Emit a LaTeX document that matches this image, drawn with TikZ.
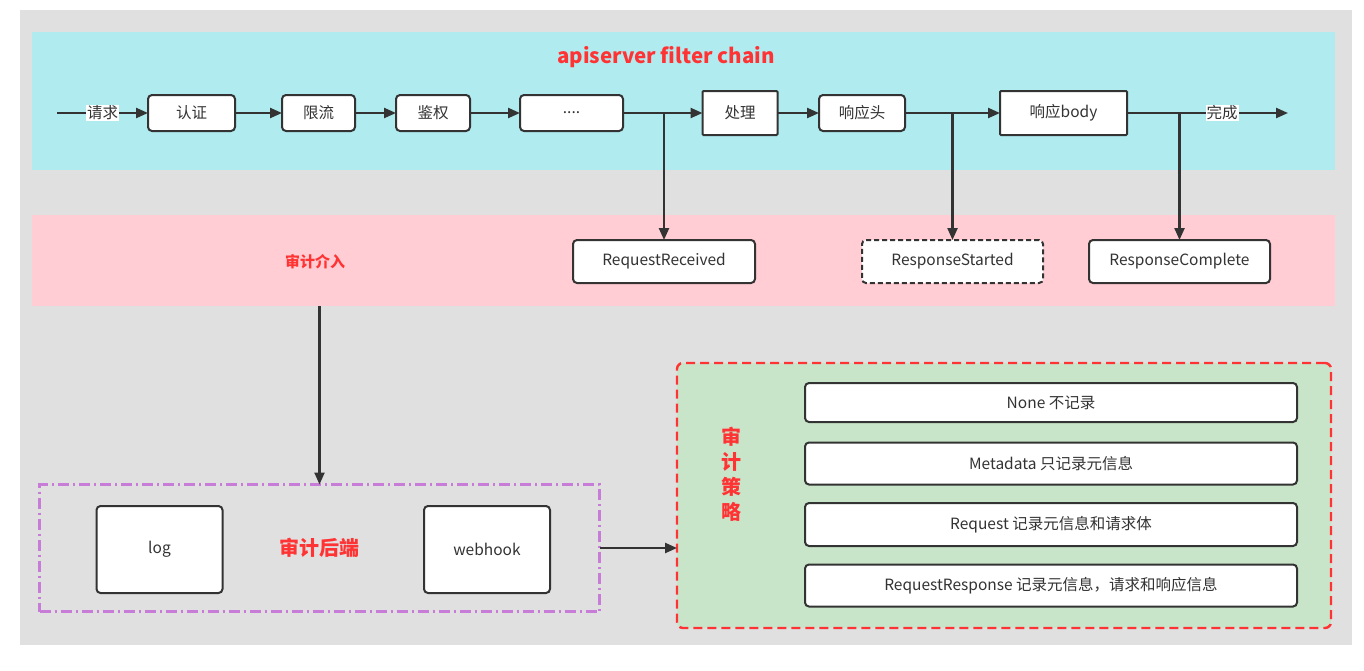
\documentclass[tikz,border=0pt]{standalone}
\usepackage{fontspec}
\setmainfont{Noto Sans CJK SC}
\usetikzlibrary{arrows.meta}
\definecolor{bggray}{HTML}{E0E0E0}
\definecolor{cyanband}{HTML}{B0EBF0}
\definecolor{pinkband}{HTML}{FFCDD3}
\definecolor{greenbox}{HTML}{C9E5C9}
\definecolor{redtxt}{HTML}{FF3333}
\definecolor{purpledash}{HTML}{C77DD8}
\definecolor{dark}{HTML}{333333}
\tikzset{
  box/.style={draw=dark, line width=2pt, fill=white, rounded corners=4pt, inner sep=0pt, outer sep=0pt, font=\fontsize{15.5}{17}\selectfont, text=dark},
  sqbox/.style={box, rounded corners=1pt},
  arr/.style={draw=dark, line width=2.3pt, -{Triangle[length=12pt,width=10pt]}},
  redlabel/.style={text=redtxt, font=\bfseries\fontsize{15}{17}\selectfont, inner sep=0pt},
  band/.style={inner sep=0pt, outer sep=0pt},
  flabel/.style={fill=white, inner sep=1pt, text=dark, font=\fontsize{15.5}{17}\selectfont}
}
\begin{document}
\begin{tikzpicture}[x=1pt,y=-1pt]
\useasboundingbox (0,0) rectangle (1364,670);
\fill[bggray] (20,10) rectangle (1352,645);
% bands
\node[band, fill=cyanband, minimum width=1303pt, minimum height=138pt] (cyanb) at (683.5,101) {};
\node[band, fill=pinkband, minimum width=1303pt, minimum height=91pt] (pink) at (683.5,260.5) {};
\node[redlabel, font=\bfseries\fontsize{20.5}{22}\selectfont] (title) at (666,57) {apiserver filter chain};
% chain
\coordinate (start) at (57,113);
\node[box, minimum width=87pt, minimum height=36pt] (auth) at (191.5,113) {认证};
\node[box, minimum width=73pt, minimum height=36pt] (limit) at (318.5,113) {限流};
\node[box, minimum width=74pt, minimum height=36pt] (authz) at (433,113) {鉴权};
\node[box, minimum width=103pt, minimum height=36pt] (dots) at (571.5,113) {....};
\node[sqbox, minimum width=75pt, minimum height=44pt] (proc) at (740,113) {处理};
\node[box, minimum width=86pt, minimum height=36pt] (rhead) at (862,113) {响应头};
\node[sqbox, minimum width=127pt, minimum height=44pt] (rbody) at (1063.5,113) {响应body};
\coordinate (fin) at (1288,113);
\draw[arr] (start) -- node[flabel] {请求} (auth);
\draw[arr] (auth) -- (limit);
\draw[arr] (limit) -- (authz);
\draw[arr] (authz) -- (dots);
\draw[arr] (dots) -- (proc);
\draw[arr] (proc) -- (rhead);
\draw[arr] (rhead) -- (rbody);
\draw[arr] (rbody) -- node[flabel, pos=0.59] {完成} (fin);
% audit stages
\node[box, minimum width=182pt, minimum height=43pt] (rr) at (664,261.5) {RequestReceived};
\node[box, dash pattern=on 5pt off 3pt, minimum width=181pt, minimum height=43pt] (rs) at (952.5,261.5) {ResponseStarted};
\node[box, minimum width=181pt, minimum height=43pt] (rc) at (1179.5,261.5) {ResponseComplete};
\draw[arr] (rr.north |- dots.east) -- (rr.north);
\draw[arr] (rs.north |- rhead.east) -- (rs.north);
\draw[arr] (rc.north |- rbody.east) -- (rc.north);
\node[redlabel] (audit) at (315,262) {审计介入};
% backend
\node[draw=purpledash, line width=2.2pt, dash pattern=on 11pt off 4pt on 2pt off 4pt, minimum width=560pt, minimum height=127pt, inner sep=0pt, outer sep=0pt] (backend) at (319.5,548) {};
\node[box, minimum width=126pt, minimum height=87pt] (log) at (159.5,549.5) {log};
\node[box, minimum width=126pt, minimum height=87pt] (hook) at (487,549.5) {webhook};
\node[redlabel, font=\bfseries\fontsize{20}{22}\selectfont] (backlabel) at (319,548) {审计后端};
\draw[arr] (backend.north |- pink.south) -- (backend.north);
% policy
\node[draw=redtxt, fill=greenbox, line width=2.4pt, dash pattern=on 9pt off 5pt, rounded corners=6pt, minimum width=654pt, minimum height=265pt, inner sep=0pt, outer sep=0pt] (policy) at (1004,495.5) {};
\draw[arr] (backend.east) -- (backend.east -| policy.west);
\node[redlabel, font=\bfseries\fontsize{20}{25}\selectfont, align=center] (plabel) at (731,474) {审\\计\\策\\略};
\node[box, minimum width=492pt, minimum height=39pt] (p1) at (1051,402.5) {None 不记录};
\node[box, minimum width=492pt, minimum height=42pt] (p2) at (1051,463.5) {Metadata 只记录元信息};
\node[box, minimum width=492pt, minimum height=43pt] (p3) at (1051,524.5) {Request 记录元信息和请求体};
\node[box, minimum width=492pt, minimum height=42pt] (p4) at (1051,585.5) {RequestResponse 记录元信息，请求和响应信息};
\end{tikzpicture}
\end{document}
